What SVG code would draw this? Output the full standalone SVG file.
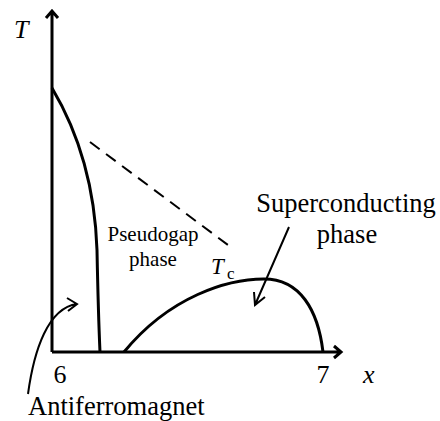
<svg xmlns="http://www.w3.org/2000/svg" width="440" height="421" viewBox="0 0 440 421">
<style>
.ln{fill:none;stroke:#000;stroke-width:3;stroke-linejoin:miter}
.th{fill:none;stroke:#000;stroke-width:2}
.t{font-family:'Liberation Serif','Times New Roman','DejaVu Serif',serif;fill:#000}
.i{font-style:italic}
</style>
<rect width="440" height="421" fill="#fff"/>
<g id="axes">
<path class="ln" d="M52,352 V12 M46,18 L52,11 L58,18"/>
<path class="ln" d="M52,352 H340 M334,346 L341,352 L334,358"/>
</g>
<g id="curves">
<path class="ln" d="M52,88 C80,135 95,190 97,250 C98,300 99,330 100,352"/>
<path class="th" stroke-dasharray="12,8" d="M90,142 L232,248"/>
<path class="ln" d="M124,352 C170,296 228,279 264,279 C300,279 318,310 323,352"/>
</g>
<g id="arrows">
<path class="th" d="M289,227 L255,305 M254,292 L255,305 L265,297"/>
<path class="th" d="M28,394 C34,350 48,308 77,304 M67,298 L77,304 L68,311"/>
</g>
<g id="labels" font-family="'Liberation Serif', 'DejaVu Serif', serif">
<text class="t i" x="14" y="38" font-size="26">T</text>
<text class="t" x="153" y="241" font-size="21" text-anchor="middle">Pseudogap</text>
<text class="t" x="153" y="266" font-size="21" text-anchor="middle">phase</text>
<text class="t i" x="211" y="274" font-size="23">T</text>
<text class="t" x="227" y="279" font-size="17">c</text>
<text class="t" x="346" y="212" font-size="26.5" text-anchor="middle">Superconducting</text>
<text class="t" x="347" y="243" font-size="26.5" text-anchor="middle">phase</text>
<text class="t" x="60" y="383" font-size="26" text-anchor="middle">6</text>
<text class="t" x="323" y="383" font-size="26" text-anchor="middle">7</text>
<text class="t i" x="363" y="383" font-size="26">x</text>
<text class="t" x="28" y="415" font-size="26.5">Antiferromagnet</text>
</g>
</svg>
